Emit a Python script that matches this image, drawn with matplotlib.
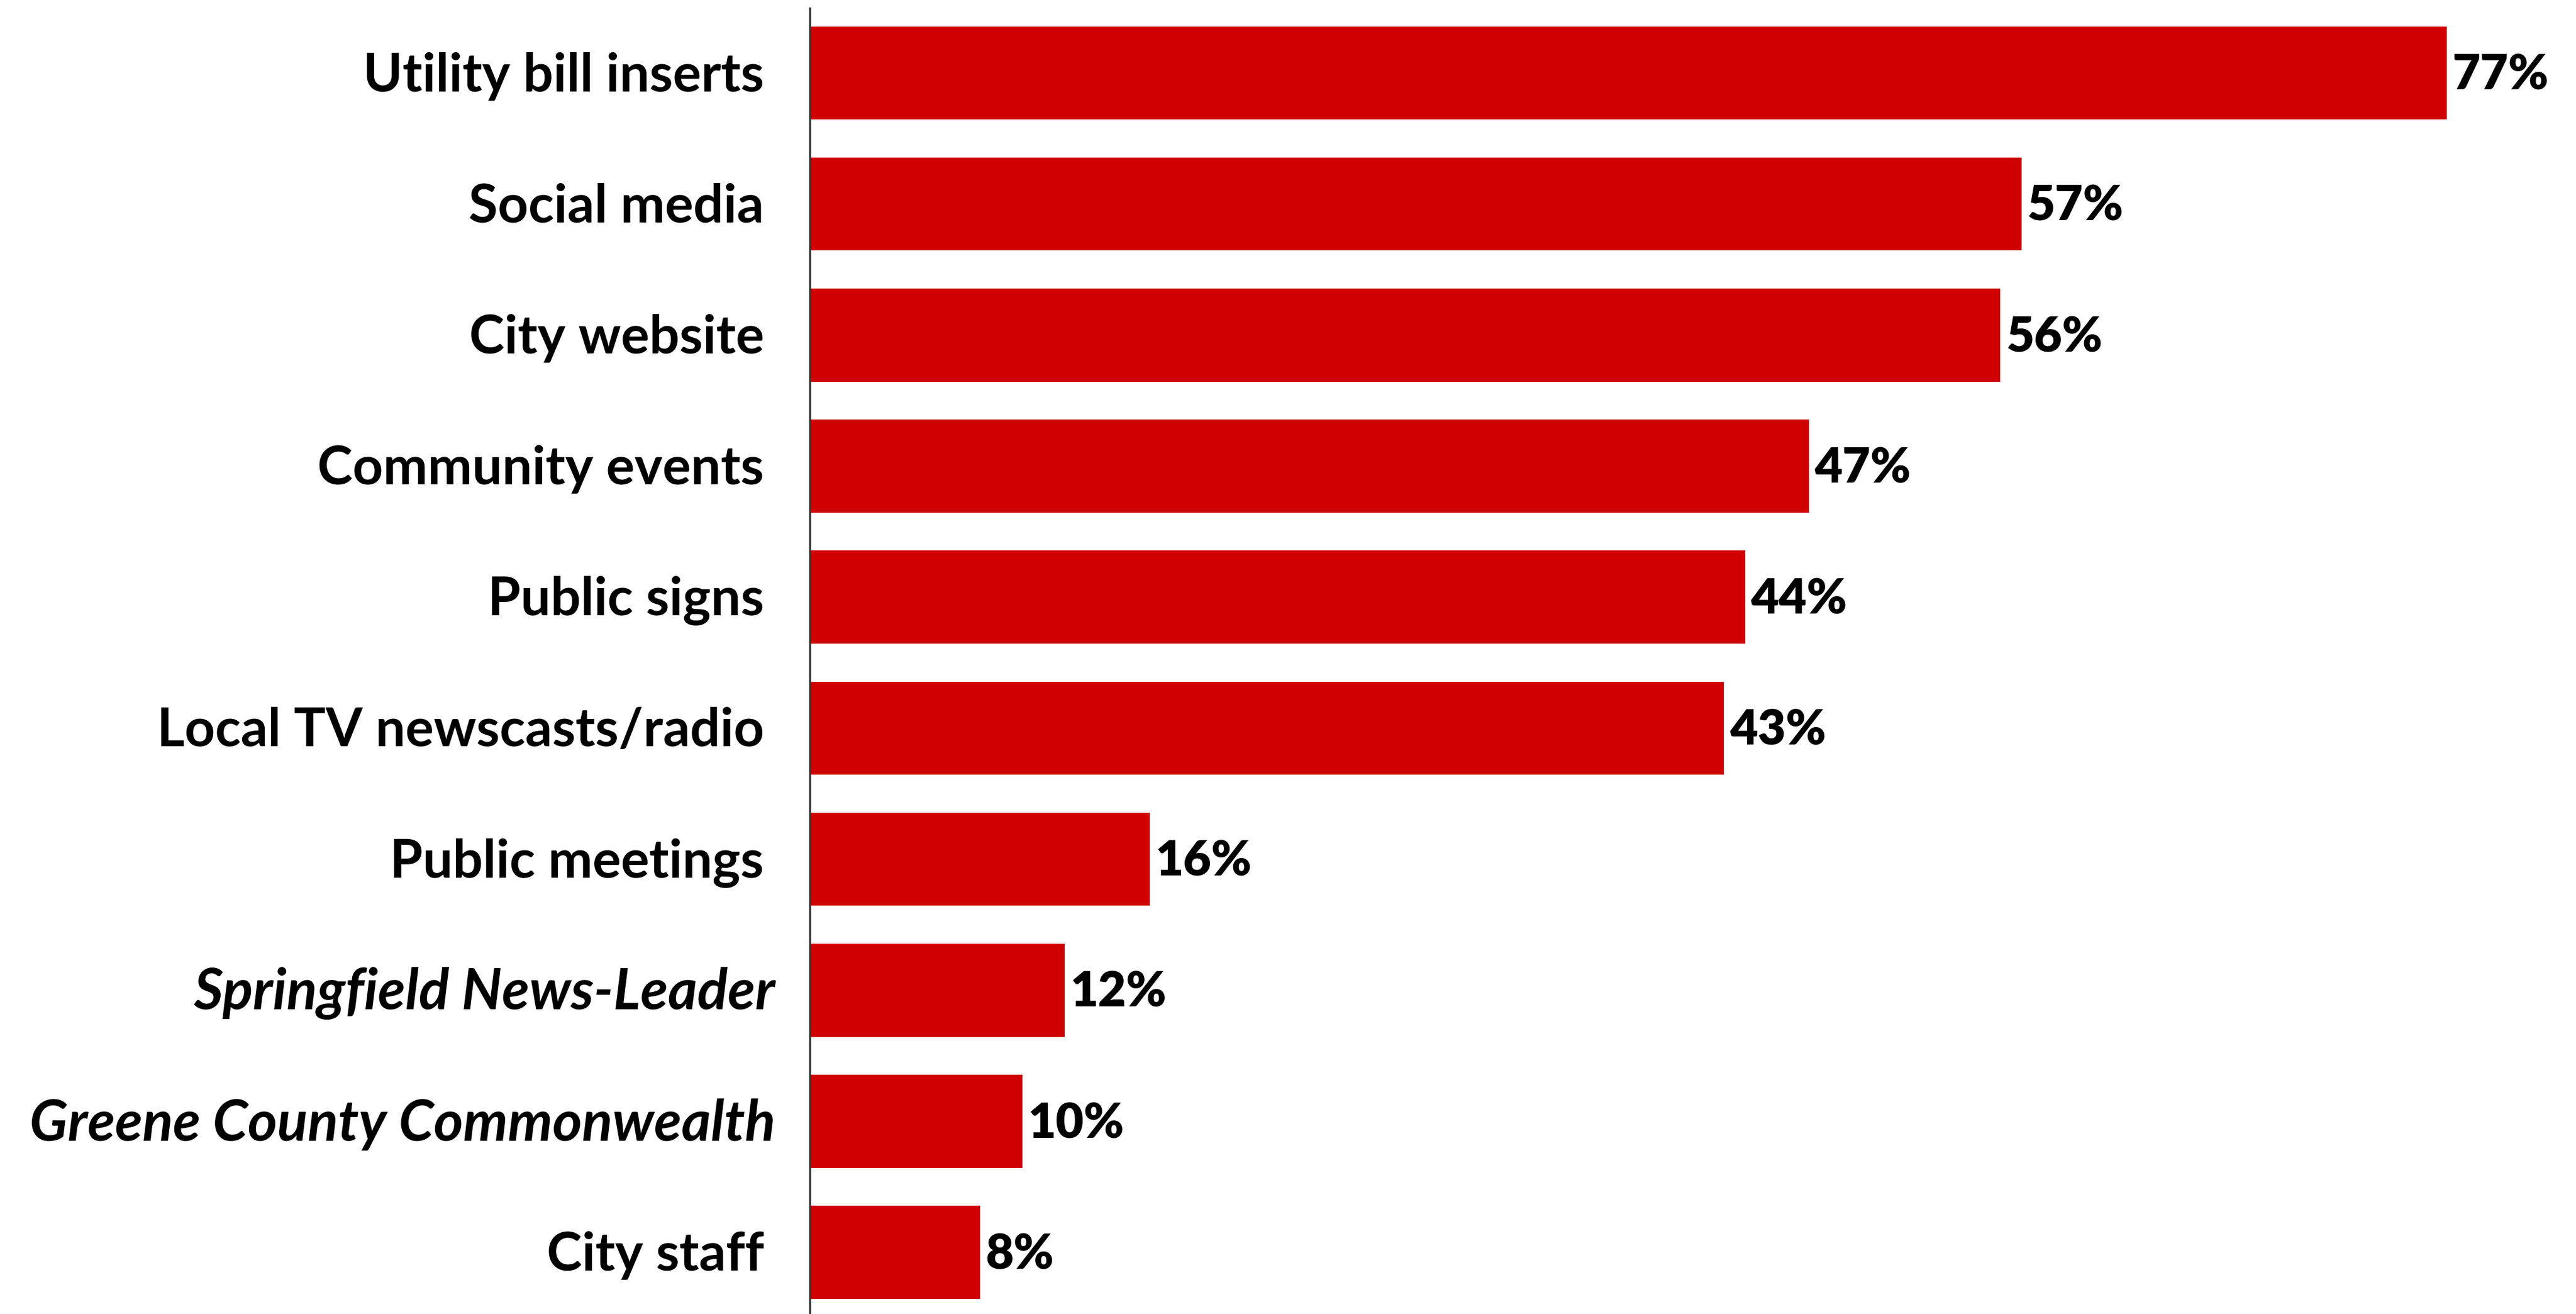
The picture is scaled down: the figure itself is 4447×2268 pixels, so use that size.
import matplotlib
matplotlib.use("Agg")
import matplotlib.pyplot as plt

# survey results: how residents get city information
categories = [
    "Utility bill inserts",
    "Social media",
    "City website",
    "Community events",
    "Public signs",
    "Local TV newscasts/radio",
    "Public meetings",
    "Springfield News-Leader",
    "Greene County Commonwealth",
    "City staff",
]
values = [77, 57, 56, 47, 44, 43, 16, 12, 10, 8]
italic_labels = ["Springfield News-Leader", "Greene County Commonwealth"]

bar_color = "#D00000"

W, H = 4447, 2268
fig = plt.figure(figsize=(W / 100, H / 100), dpi=100)
ax_left = 1398 / W
ax = fig.add_axes([ax_left, 0, 1 - ax_left, (H - 14) / H])

y = list(range(len(categories)))
ax.barh(y, values, height=0.71, color=bar_color)

ax.set_ylim(9.47, -0.495)
ax.set_xlim(0, 83.08)

for side in ["top", "right", "bottom"]:
    ax.spines[side].set_visible(False)
ax.spines["left"].set_color("#333333")
ax.spines["left"].set_linewidth(2.5)
ax.set_xticks([])
ax.set_yticks([])

# category names, right-aligned left of the axis line
for i, name in enumerate(categories):
    if name in italic_labels:
        ax.annotate(name, xy=(0, i), xytext=(-43, -4), textcoords="offset points",
                    ha="right", va="center", fontsize=70, fontweight="bold",
                    style="italic", family="Lato")
    else:
        ax.annotate(name, xy=(0, i), xytext=(-57, -4), textcoords="offset points",
                    ha="right", va="center", fontsize=66, fontweight="bold",
                    family="Lato")

for i, v in enumerate(values):
    ax.annotate(f"{v}%", xy=(v, i), xytext=(7, -3), textcoords="offset points",
                ha="left", va="center", fontsize=60, fontweight="heavy",
                family="Lato", color="black")

fig.savefig("out.png", dpi=100, facecolor="white")
